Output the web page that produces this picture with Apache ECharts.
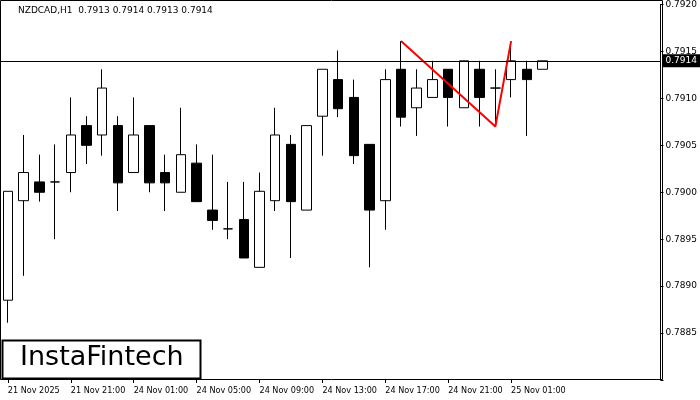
<!DOCTYPE html>
<html><head><meta charset="utf-8">
<script src="https://cdn.jsdelivr.net/npm/echarts@6/dist/echarts.min.js"></script>
<style>html,body{margin:0;padding:0;background:#fff}#c{width:700px;height:400px}</style>
</head><body><div id="c"></div>
<script>
const categories = ['21 Nov 17:00','21 Nov 18:00','21 Nov 19:00','21 Nov 20:00','21 Nov 21:00','21 Nov 22:00','21 Nov 23:00',
 '24 Nov 00:00','24 Nov 01:00','24 Nov 02:00','24 Nov 03:00','24 Nov 04:00','24 Nov 05:00','24 Nov 06:00','24 Nov 07:00','24 Nov 08:00',
 '24 Nov 09:00','24 Nov 10:00','24 Nov 11:00','24 Nov 12:00','24 Nov 13:00','24 Nov 14:00','24 Nov 15:00','24 Nov 16:00',
 '24 Nov 17:00','24 Nov 18:00','24 Nov 19:00','24 Nov 20:00','24 Nov 21:00','24 Nov 22:00','24 Nov 23:00',
 '25 Nov 00:00','25 Nov 01:00','25 Nov 02:00','25 Nov 03:00','25 Nov 04:00','25 Nov 05:00','25 Nov 06:00','25 Nov 07:00','25 Nov 08:00','25 Nov 09:00','25 Nov 10:00'];
const tickLabels = {0:'21 Nov 2025',4:'21 Nov 21:00',8:'24 Nov 01:00',12:'24 Nov 05:00',16:'24 Nov 09:00',20:'24 Nov 13:00',24:'24 Nov 17:00',28:'24 Nov 21:00',32:'25 Nov 01:00'};
// open, close, low, high
const ohlc = [
 [0.78885,0.79001,0.78861,0.79001],
 [0.78991,0.79021,0.78911,0.79061],
 [0.79011,0.79000,0.78990,0.79040],
 [0.79011,0.79011,0.78950,0.79051],
 [0.79021,0.79061,0.79000,0.79101],
 [0.79071,0.79050,0.79030,0.79081],
 [0.79061,0.79111,0.79039,0.79131],
 [0.79071,0.79010,0.78980,0.79081],
 [0.79021,0.79061,0.79021,0.79101],
 [0.79071,0.79010,0.79000,0.79071],
 [0.79021,0.79010,0.78980,0.79040],
 [0.79000,0.79040,0.79000,0.79090],
 [0.79031,0.78990,0.78990,0.79051],
 [0.78981,0.78970,0.78960,0.79040],
 [0.78961,0.78961,0.78950,0.79011],
 [0.78971,0.78930,0.78930,0.79011],
 [0.78920,0.79001,0.78920,0.79021],
 [0.78991,0.79061,0.78980,0.79090],
 [0.79051,0.78990,0.78930,0.79061],
 [0.78981,0.79071,0.78981,0.79071],
 [0.79081,0.79131,0.79039,0.79131],
 [0.79120,0.79089,0.79080,0.79151],
 [0.79101,0.79039,0.79030,0.79120],
 [0.79051,0.78981,0.78920,0.79051],
 [0.78991,0.79120,0.78960,0.79131],
 [0.79131,0.79080,0.79070,0.79161],
 [0.79090,0.79111,0.79060,0.79131],
 [0.79101,0.79120,0.79101,0.79140],
 [0.79131,0.79101,0.79070,0.79131],
 [0.79090,0.79140,0.79090,0.79140],
 [0.79131,0.79101,0.79070,0.79140],
 [0.79111,0.79111,0.79070,0.79131],
 [0.79120,0.79140,0.79101,0.79161],
 [0.79131,0.79120,0.79060,0.79140],
 [0.79131,0.79140,0.79131,0.79140]
];
const patternX = [25, 31, 32];
const patternY = [0.79161, 0.79070, 0.79161];
const lastPrice = 0.7914;
const title = 'NZDCAD,H1  0.7913 0.7914 0.7913 0.7914';

const chart = echarts.init(document.getElementById('c'));
chart.setOption({
 animation:false,
 textStyle:{fontFamily:'DejaVu Sans'},
 grid:{left:-5,right:38,top:4,bottom:20},
 xAxis:{type:'category',data:categories,boundaryGap:true,
  axisLine:{show:false},
  axisTick:{show:true,alignWithLabel:true,interval:(i)=>tickLabels[i]!==undefined,lineStyle:{color:'#000'},length:3},
  axisLabel:{interval:0,formatter:(v,i)=>tickLabels[i]||'',color:'#000',fontSize:9,fontFamily:'DejaVu Sans Condensed',align:'left',margin:6},
  splitLine:{show:false}},
 yAxis:{type:'value',position:'right',offset:0,min:0.788,max:0.792,interval:0.0005,scale:true,
  axisLine:{show:true,lineStyle:{color:'#000'}},
  axisTick:{show:true,inside:false,length:3,lineStyle:{color:'#000'}},
  axisLabel:{color:'#000',fontSize:9,margin:5,formatter:v=>v<0.78825?'':v.toFixed(4)},
  splitLine:{show:false}},
 series:[
  {type:'candlestick',data:ohlc,barWidth:10,
   itemStyle:{color:'#fff',color0:'#000',borderColor:'#000',borderColor0:'#000',borderWidth:1},
   markLine:{symbol:'none',silent:true,precision:4,lineStyle:{color:'#000',width:1,type:'solid'},
     label:{show:true,position:'end',formatter:lastPrice.toFixed(4),color:'#fff',backgroundColor:'#000',padding:[2,3],fontSize:9,distance:2},
     data:[{yAxis:lastPrice}]}},
  {type:'line',data:patternX.map((x,i)=>[x,patternY[i]]),symbol:'none',lineStyle:{color:'#ff0000',width:2}}
 ],
 graphic:[
  {type:'rect',shape:{x:0.5,y:0.5,width:662,height:379},style:{fill:null,stroke:'#000',lineWidth:1}},
  {type:'text',left:18,top:6,style:{text:title,font:'9px DejaVu Sans',fill:'#000'}},
  {type:'rect',shape:{x:2.5,y:340.5,width:198,height:38},style:{fill:'#fff',stroke:'#000',lineWidth:2}},
  {type:'text',left:20,top:344,style:{text:'InstaFintech',font:'27px DejaVu Sans',fill:'#000'}}
 ]
});
</script></body></html>
